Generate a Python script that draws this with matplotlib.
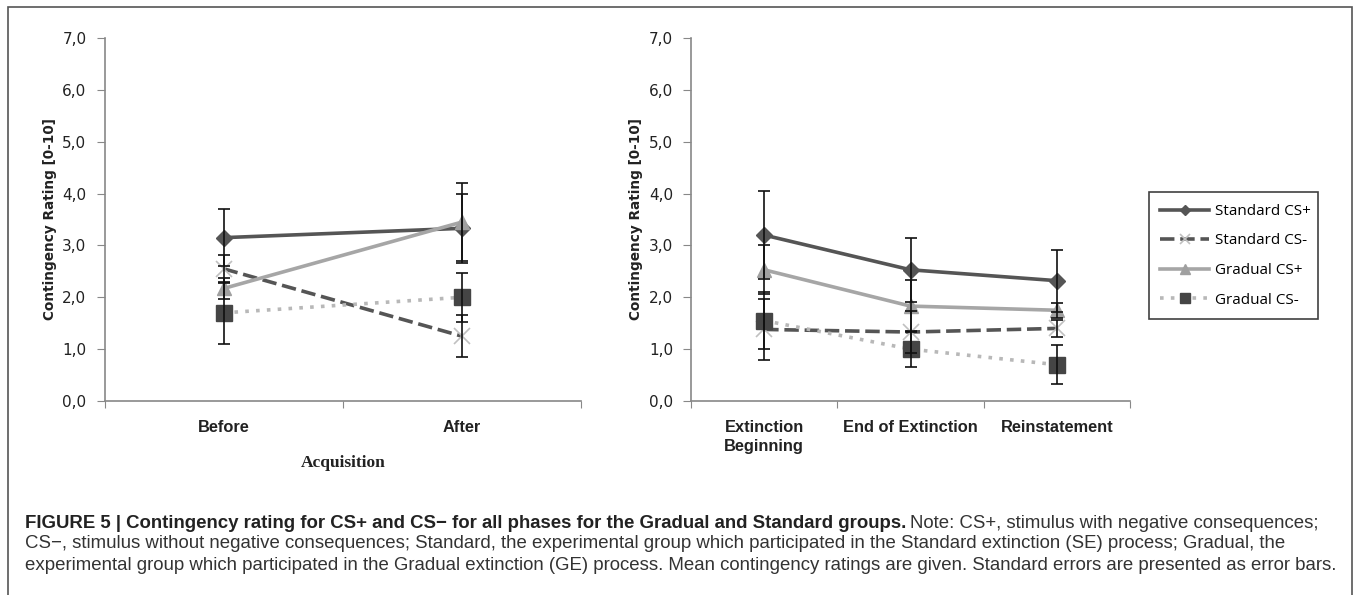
import matplotlib
matplotlib.use("Agg")
import matplotlib.pyplot as plt
from matplotlib.font_manager import FontProperties
from matplotlib.patches import Rectangle

# data
acq_labels = ["Before", "After"]
ext_labels = ["Extinction\nBeginning", "End of Extinction", "Reinstatement"]
series_names = ["Standard CS+", "Standard CS-", "Gradual CS+", "Gradual CS-"]

acq_std_plus = [3.15, 3.33]
acq_std_minus = [2.55, 1.25]
acq_grad_plus = [2.17, 3.45]
acq_grad_minus = [1.70, 2.00]
acq_std_plus_err = [0.55, 0.67]
acq_std_minus_err = [0.27, 0.40]
acq_grad_plus_err = [0.20, 0.75]
acq_grad_minus_err = [0.60, 0.47]

ext_std_plus = [3.20, 2.53, 2.32]
ext_std_minus = [1.38, 1.33, 1.40]
ext_grad_plus = [2.53, 1.83, 1.75]
ext_grad_minus = [1.55, 1.00, 0.70]
ext_std_plus_err = [0.85, 0.62, 0.60]
ext_std_minus_err = [0.58, 0.40, 0.16]
ext_grad_plus_err = [0.47, 0.50, 0.14]
ext_grad_minus_err = [0.55, 0.35, 0.38]

styles = [
    dict(color="#555555", ls="-", lw=2.6, marker="D", ms=8, mfc="#555555", mec="#555555"),
    dict(color="#555555", ls=(0, (4, 1.6)), lw=2.6, marker="x", ms=11, mfc="#c0c0c0", mec="#c0c0c0", mew=1.2),
    dict(color="#a6a6a6", ls="-", lw=2.6, marker="^", ms=10, mfc="#a0a0a0", mec="#a0a0a0"),
    dict(color="#b8b8b8", ls=(0, (1, 2)), lw=2.6, marker="s", ms=11, mfc="#454545", mec="#454545"),
]

W, H = 1356, 595
fig = plt.figure(figsize=(W / 100, H / 100), dpi=100)
renderer = fig.canvas.get_renderer()

# outer frame
fig.patches.append(Rectangle((8 / W, -0.1), 1344 / W, 1.1 - 7 / H,
                             transform=fig.transFigure, fill=False,
                             ec="#555555", lw=1.2))

ax1 = fig.add_axes([104.5 / W, 1 - 401 / H, 476.5 / W, 363 / H])
ax2 = fig.add_axes([691 / W, 1 - 401 / H, 439 / W, 363 / H])

cat_prop = FontProperties(family="Liberation Sans", weight="bold", size=11.8)


def draw_panel(ax, labels, vals, errs):
    n = len(labels)
    xs = [i + 0.5 for i in range(n)]
    handles = []
    for v, st, name in zip(vals, styles, series_names):
        h, = ax.plot(xs, v, label=name, zorder=3, **st)
        handles.append(h)
    for v, e in zip(vals, errs):
        ax.errorbar(xs, v, yerr=e, fmt="none", ecolor="#111111",
                    elinewidth=1.2, capsize=4.5, capthick=1.2, zorder=4)
    ax.set_xlim(0, n)
    ax.set_ylim(0, 7)
    ax.set_yticks(range(8))
    ax.set_yticklabels([f"{t},0" for t in range(8)], fontsize=11,
                       family="DejaVu Sans", color="#222222")
    ax.set_xticks(range(n + 1))
    ax.set_xticklabels([])
    ax.set_xticks(xs, minor=True)
    ax.set_xticklabels(labels, minor=True, fontproperties=cat_prop,
                       color="#222222", linespacing=1.3, va="top")
    ax.tick_params(axis="x", which="minor", length=0, pad=14)
    ax.tick_params(axis="x", which="major", length=5, direction="out", color="#888888")
    ax.tick_params(axis="y", length=6, direction="out", color="#888888", pad=7)
    for s in ["top", "right"]:
        ax.spines[s].set_visible(False)
    for s in ["left", "bottom"]:
        ax.spines[s].set_color("#888888")
        ax.spines[s].set_linewidth(1.2)
    ax.set_ylabel("Contingency Rating [0-10]", fontsize=9.8, fontweight="bold",
                  family="DejaVu Sans", color="#222222", labelpad=4)
    return handles


draw_panel(ax1, acq_labels,
           [acq_std_plus, acq_std_minus, acq_grad_plus, acq_grad_minus],
           [acq_std_plus_err, acq_std_minus_err, acq_grad_plus_err, acq_grad_minus_err])
ax1.set_xlabel("Acquisition", fontsize=12.5, fontweight="bold",
               family="Liberation Serif", labelpad=14, color="#222222")

handles = draw_panel(ax2, ext_labels,
                     [ext_std_plus, ext_std_minus, ext_grad_plus, ext_grad_minus],
                     [ext_std_plus_err, ext_std_minus_err, ext_grad_plus_err, ext_grad_minus_err])

# legend text sized to the width it has in the reference
leg_prop = FontProperties(family="Open Sans", size=10)
w10, _, _ = renderer.get_text_width_height_descent("Standard CS+", leg_prop, ismath=False)
leg_prop.set_size(min(10 * 96 / w10, 13))

leg = fig.legend(handles=handles, loc="lower left",
                 bbox_to_anchor=(1149 / W, 1 - 319 / H, 169 / W, 133 / H),
                 mode="expand", borderaxespad=0, frameon=True, fancybox=False,
                 handlelength=3.2, handletextpad=0.35, labelspacing=0.95,
                 borderpad=0.75, markerscale=0.7, prop=leg_prop)
leg.get_frame().set_edgecolor("#111111")
leg.get_frame().set_linewidth(1.2)

# caption
cap_x = 25 / W
cap_size = 13.4
bold_txt = fig.text(cap_x, 1 - 523 / H,
                    "FIGURE 5 | Contingency rating for CS+ and CS\u2212 for all phases for the Gradual and Standard groups.",
                    fontsize=cap_size, fontweight="bold", family="Liberation Sans",
                    va="center", color="#222222")
fig.canvas.draw()
bb = bold_txt.get_window_extent(fig.canvas.get_renderer())
fig.text(bb.x1 / fig.bbox.width + 0.003, 1 - 523 / H,
         "Note: CS+, stimulus with negative consequences;",
         fontsize=cap_size, family="Liberation Sans", va="center", color="#333333")
fig.text(cap_x, 1 - 544 / H,
         "CS\u2212, stimulus without negative consequences; Standard, the experimental group which participated in the Standard extinction (SE) process; Gradual, the",
         fontsize=cap_size, family="Liberation Sans", va="center", color="#333333")
fig.text(cap_x, 1 - 565 / H,
         "experimental group which participated in the Gradual extinction (GE) process. Mean contingency ratings are given. Standard errors are presented as error bars.",
         fontsize=cap_size, family="Liberation Sans", va="center", color="#333333")

fig.savefig("out.png", dpi=100)
